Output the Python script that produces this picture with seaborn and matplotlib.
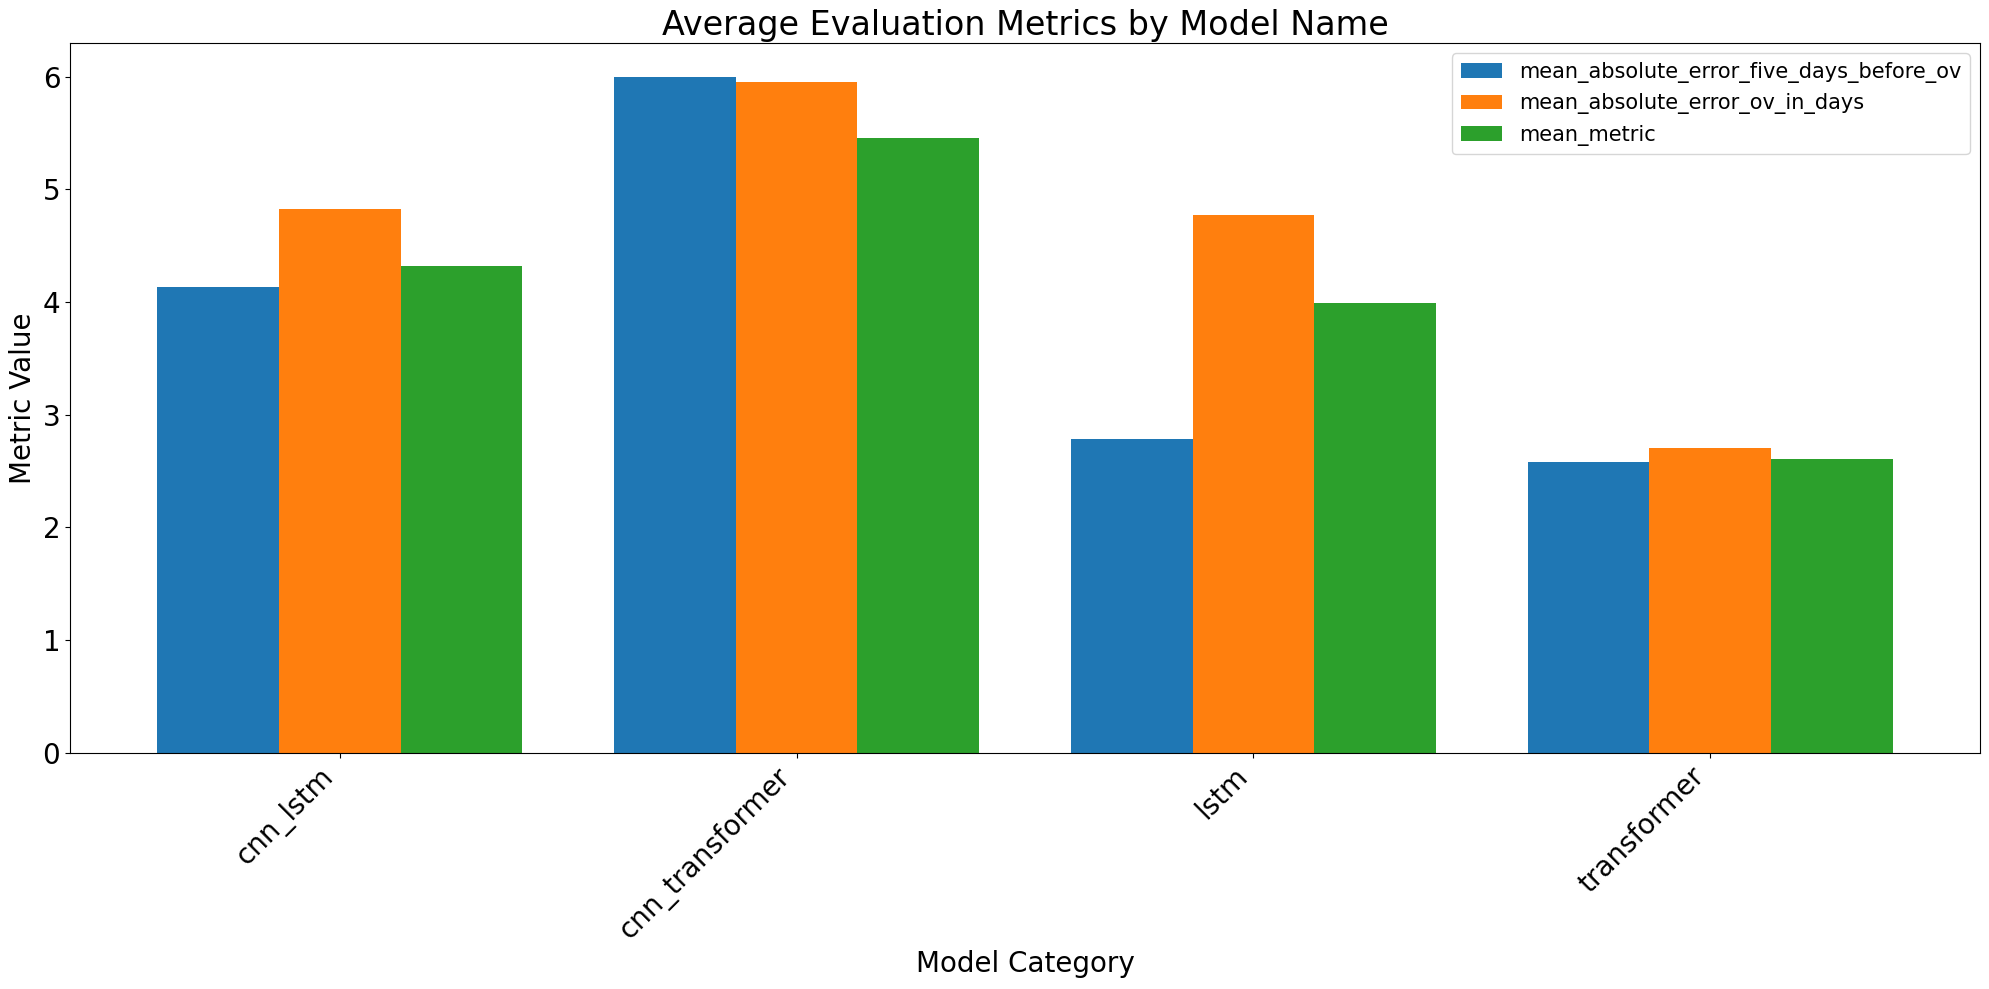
import matplotlib
matplotlib.use("Agg")
import matplotlib.pyplot as plt
import seaborn as sns
import pandas as pd

models = ["cnn_lstm", "cnn_transformer", "lstm", "transformer"]
metrics = ["mean_absolute_error_five_days_before_ov",
           "mean_absolute_error_ov_in_days",
           "mean_metric"]
mae_five_days_before_ov = [4.13, 6.00, 2.78, 2.58]
mae_ov_in_days = [4.83, 5.95, 4.77, 2.70]
mean_metric = [4.32, 5.46, 3.99, 2.61]
colors = ["#1f77b4", "#ff7f0e", "#2ca02c"]

rows = []
for metric, vals in zip(metrics, [mae_five_days_before_ov, mae_ov_in_days, mean_metric]):
    for m, v in zip(models, vals):
        rows.append({"model": m, "metric": metric, "value": v})
df = pd.DataFrame(rows)

fig = plt.figure(figsize=(19.9, 9.89), dpi=100)
ax = fig.add_axes([70 / 1990, 1 - 752.5 / 989, (1980 - 70) / 1990, (752.5 - 43) / 989])

sns.barplot(data=df, x="model", y="value", hue="metric", order=models,
            hue_order=metrics, palette=colors, saturation=1, width=0.8,
            gap=0, errorbar=None, ax=ax)

ax.set_xlim(-0.59, 3.59)
ax.set_title("Average Evaluation Metrics by Model Name", fontsize=24)
ax.set_xlabel("Model Category", fontsize=20)
ax.set_ylabel("Metric Value", fontsize=20)
ax.tick_params(axis="both", labelsize=20)
plt.setp(ax.get_xticklabels(), rotation=45, ha="right")
ax.legend(title=None, fontsize=15, loc="upper right")

fig.savefig("out.png", dpi=100)
